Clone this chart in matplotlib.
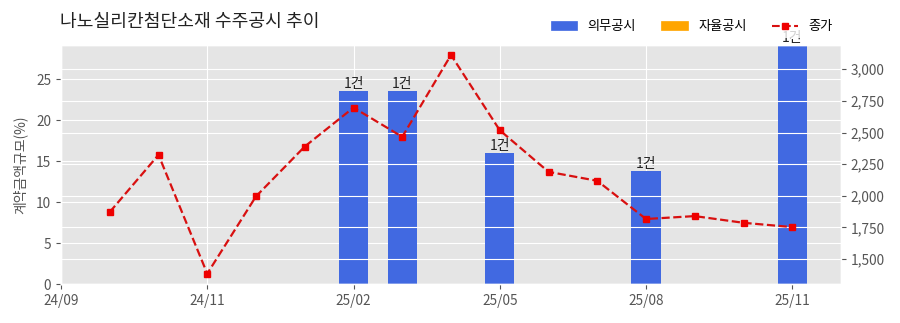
import matplotlib
matplotlib.use("Agg")
import matplotlib.pyplot as plt
from matplotlib.ticker import FuncFormatter
from matplotlib.patches import Patch
from matplotlib.lines import Line2D

plt.style.use("ggplot")
plt.rcParams['font.family'] = ['Noto Sans CJK KR', 'DejaVu Sans']
plt.rcParams['axes.unicode_minus'] = False

title = "나노실리칸첨단소재 수주공시 추이"
tick_pos = [0, 3, 6, 9, 12, 15]
tick_labels = ["24/09", "24/11", "25/02", "25/05", "25/08", "25/11"]

bar_pos = [6, 7, 9, 12, 15]
bar_values = [23.6, 23.6, 16.0, 13.8, 29.2]
bar_labels = ["1건", "1건", "1건", "1건", "1건"]

price_pos = list(range(1, 16))
price_values = [1871, 2323, 1384, 1995, 2389, 2697, 2466, 3113, 2518,
                2189, 2118, 1816, 1839, 1786, 1752]

fig = plt.figure(figsize=(9, 3.23), dpi=100)
ax = fig.add_axes([61/900, 1 - 284/323, (841-61)/900, (284-45)/323])
ax2 = ax.twinx()

ax.bar(bar_pos, bar_values, width=0.6, color='#4169E1', zorder=2)
for x, v, t in zip(bar_pos, bar_values, bar_labels):
    ax.text(x, v, t, ha='center', va='bottom', fontsize=10, color='#222222')

ax2.plot(price_pos, price_values, color='#d81010', linestyle='--', marker='s',
         markersize=5, linewidth=1.6, markerfacecolor='#ee0000', markeredgecolor='#ee0000')

ax.set_xlim(0, 16)
ax.set_ylim(0, 29.2)
ax2.set_ylim(1302, 3192)
ax.set_xticks(tick_pos)
ax.set_xticklabels(tick_labels)
ax.set_yticks([0, 5, 10, 15, 20, 25])
ax2.set_yticks([1500, 1750, 2000, 2250, 2500, 2750, 3000])
ax2.yaxis.set_major_formatter(FuncFormatter(lambda v, p: f"{int(v):,}"))
ax.set_ylabel("계약금액규모(%)", fontsize=10, color='#555555', labelpad=6)
for a in (ax, ax2):
    a.tick_params(labelsize=9.8, colors='#555555')

fig.text(60/900, 1 - 22/323, title, fontsize=13.1, ha='left', va='center', color='#222222')

handles = [Patch(color='#4169E1'), Patch(color='orange'),
           Line2D([0], [0], color='#d81010', linestyle='--', marker='s', markersize=5,
                  markerfacecolor='#ee0000', markeredgecolor='#ee0000')]
leg = ax2.legend(handles, ["의무공시", "자율공시", "종가"], ncol=3, loc='lower right',
                 bbox_to_anchor=(1.005, 1.0), fontsize=9.5, facecolor='white',
                 edgecolor='none', framealpha=0.8, columnspacing=1.9)

fig.savefig("out.png", dpi=100)
